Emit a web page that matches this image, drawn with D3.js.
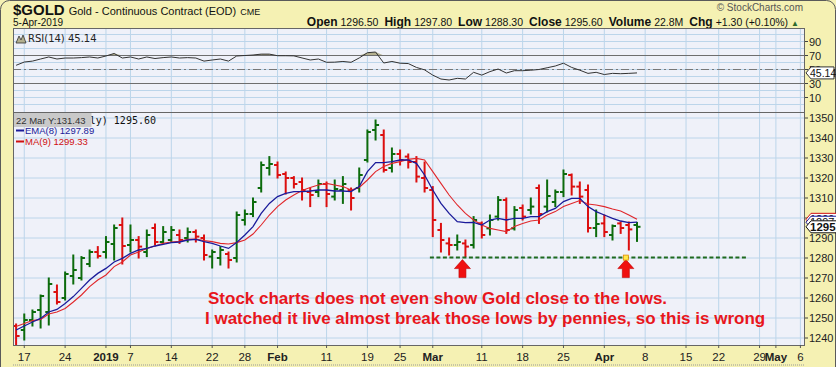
<!DOCTYPE html>
<html>
<head>
<meta charset="utf-8">
<script src="https://cdn.jsdelivr.net/npm/d3@7"></script>
<style>
  html, body { margin: 0; padding: 0; background: #f5f1b3; }
  svg { display: block; }
</style>
</head>
<body>
<div id="chart"></div>
<script>
// Daily bars, 14 Dec 2018 .. 5 Apr 2019 (index = trading day)
const opens = [
  1246, 1244, 1249, 1254, 1253, 1263, 1260, 1271, 1270, 1277,
  1283, 1283, 1287, 1296.5, 1286.5, 1289, 1283, 1295, 1288, 1289,
  1291.5, 1290, 1293, 1290, 1280.7, 1280, 1282, 1280, 1299, 1302,
  1315, 1325, 1326.5, 1322, 1320, 1318, 1313, 1313, 1317, 1310.7,
  1314, 1314, 1315, 1329, 1344, 1341.5, 1325, 1332, 1330.7, 1328,
  1320, 1314, 1294, 1287.3, 1286.5, 1287.3, 1286.5, 1297.3, 1294.8, 1300.7,
  1309, 1294.8, 1305, 1304, 1315, 1305.7, 1308, 1313, 1321.5, 1315.7,
  1314, 1295, 1297.3, 1291.5, 1297.3, 1296.5, 1296.5
];
const highs = [
  1247, 1252, 1254, 1261.5, 1270, 1266.5, 1273, 1281.5, 1280.7, 1284,
  1285.7, 1290.7, 1296.5, 1300, 1296.5, 1290.7, 1294, 1297, 1295.7, 1295.7,
  1294, 1295, 1294, 1291.5, 1284, 1285.7, 1283, 1303, 1304, 1310,
  1328, 1330.7, 1328, 1323, 1320.7, 1320, 1315, 1319, 1318, 1319,
  1320.7, 1315, 1325, 1344, 1349, 1344, 1335, 1334, 1332, 1330.7,
  1328, 1315.7, 1297.3, 1290, 1291.5, 1289, 1300.7, 1298, 1301.5, 1310.7,
  1310, 1305.7, 1306.5, 1310, 1316.5, 1319, 1314, 1324, 1322, 1318,
  1316.5, 1304, 1301.5, 1296.5, 1298, 1298, 1297.8
];
const lows = [
  1236, 1239, 1246, 1245, 1246.5, 1257, 1259, 1267, 1269, 1275.7,
  1280, 1280, 1279, 1277, 1283, 1280, 1280.7, 1286.5, 1287.3, 1288,
  1287.3, 1288, 1288, 1279, 1275, 1276.5, 1275, 1278, 1296.5, 1300.7,
  1313, 1321.5, 1320, 1312, 1315, 1309, 1305.7, 1310.7, 1305.7, 1309,
  1307.3, 1304, 1313, 1328, 1339, 1323, 1323, 1326.5, 1325, 1318,
  1313, 1290.7, 1283, 1281.5, 1284, 1280.7, 1285, 1290, 1291.5, 1299,
  1292.3, 1294, 1299, 1302, 1297.3, 1303, 1305.7, 1310.7, 1311.5, 1307.3,
  1293, 1290.7, 1290.7, 1289, 1292.3, 1284, 1288.3
];
const closes = [
  1241, 1249, 1253, 1261, 1267, 1258, 1272, 1274, 1280, 1283,
  1281, 1288, 1295, 1286, 1289, 1285.7, 1291.5, 1288, 1293, 1294,
  1289, 1293, 1290.7, 1281.5, 1283, 1284, 1279, 1301.5, 1302, 1308,
  1326.5, 1327, 1321.5, 1320, 1317, 1314, 1311.5, 1317, 1312, 1314.5,
  1317, 1310, 1321.5, 1343, 1346.5, 1324, 1332, 1329, 1328, 1320.7,
  1315, 1299, 1289, 1286.5, 1288, 1285.7, 1299, 1291.5, 1299, 1309,
  1294, 1304, 1300.7, 1305.7, 1302, 1311, 1313, 1322, 1315.7, 1310.7,
  1295, 1297, 1293, 1296, 1295, 1294.3, 1295.6
];
const ema8 = [
  1244, 1246, 1248, 1249.8, 1253, 1254.3, 1257.3, 1260.7, 1264.8, 1269,
  1272.3, 1274.8, 1278, 1279.8, 1282.3, 1284, 1284.8, 1286, 1286.8, 1287.7,
  1288, 1289, 1289.3, 1288.2, 1287.3, 1286, 1284.8, 1287.8, 1291.5, 1295.7,
  1302.3, 1307.3, 1310.7, 1312.3, 1313.2, 1313.2, 1313.5, 1314, 1314, 1313.5,
  1313.5, 1313.2, 1315.7, 1323.2, 1327.7, 1327.7, 1328.2, 1329, 1329, 1327.3,
  1321.5, 1314, 1307.3, 1302.3, 1298.2, 1297.7, 1297.8, 1296.5, 1299, 1299.8,
  1299, 1299.8, 1299.8, 1300.7, 1300.7, 1303.2, 1304.8, 1308.2, 1309.8, 1309.8,
  1305.7, 1303.2, 1301.5, 1299.8, 1298.5, 1297.7, 1297.89
];
const ma9 = [
  1245.7, 1247.3, 1248.7, 1249.3, 1252, 1253, 1254.8, 1258, 1261.5, 1265.7,
  1269, 1271.5, 1275.7, 1278, 1281.5, 1283, 1284.8, 1286, 1287.3, 1288,
  1288.3, 1289.3, 1289.5, 1288.7, 1288.2, 1287.3, 1287, 1287.7, 1289, 1292,
  1296.5, 1301.5, 1305.7, 1309, 1311.5, 1313.7, 1315.3, 1316.5, 1317.3, 1316.5,
  1315.7, 1314, 1315.3, 1319, 1323.2, 1325.7, 1327.3, 1328.2, 1329.3, 1329.8,
  1329, 1323.2, 1317.3, 1311.5, 1306.5, 1302.3, 1299, 1296.5, 1294.8, 1294,
  1293.2, 1295.7, 1297.3, 1298.5, 1299, 1301.5, 1303.2, 1305.7, 1307.3, 1308.7,
  1307, 1306.5, 1305.7, 1304.5, 1303.5, 1301.5, 1299.33
];
const rsi14 = [
  56, 60.7, 62, 65, 67.9, 65, 66.4, 66.4, 67, 67.9,
  66.4, 69.3, 72.9, 66.4, 67.9, 65, 67.9, 65.7, 67, 67.9,
  66.4, 67, 66.4, 62, 63.6, 65, 62, 69.3, 70, 70.7,
  72, 72, 69.7, 69.7, 69.5, 66.5, 63.6, 65, 60.3, 60.5,
  61.5, 60.3, 66.5, 74, 75, 59.3, 61.5, 59, 58.5, 53,
  49.5, 42, 36.4, 35, 37.4, 36.4, 46, 42, 47, 50.7,
  45, 48.3, 48.3, 49, 50, 52.5, 55, 59, 53, 49,
  44.5, 46, 42.8, 44.5, 44, 44.5, 45.14
];

// x axis: trading-day index of each weekly label
const tickIdx = [1, 6, 11, 14, 19, 24, 28, 32, 38, 43, 47, 51, 57, 62, 67, 72, 77, 82, 86, 91, 93, 96];
const tickLabels = ["17", "24", "2019", "7", "14", "22", "28", "Feb", "11", "19", "25", "Mar",
  "11", "18", "25", "Apr", "8", "15", "22", "29", "May", "6"];
const priceTicks = [1240, 1250, 1260, 1270, 1280, 1290, 1300, 1310, 1320, 1330, 1340, 1350];
const rsiTicks = [10, 30, 50, 70, 90];
const rsiGrid = [0, 10, 20, 30, 40, 50, 60, 70, 80, 90, 100];

// annotation
const supportLevel = 1280.2;
const supportFrom = 50.65, supportTo = 89.6;
const arrowIdx = [55, 75];
const noteLines = [
  "Stock charts does not even show Gold close to the lows.",
  "I watched it live almost break those lows by pennies, so this is wrong"
];

const W = 836, H = 367;
const left = 13, right = 805;
const rsiTop = 28, rsiBot = 112, mainTop = 112, mainBot = 345;
const green = "#0c6b0c", red = "#dc0f0f", grid = "#bcd5ea";

const x = d3.scaleLinear().domain([0, 96]).range([16.1, 800.4]);
const yP = d3.scaleLinear().domain([1236.5, 1353]).range([mainBot, mainTop]);
const yR = d3.scaleLinear().domain([-10.7, 109.3]).range([rsiBot, rsiTop]);

const svg = d3
  .select("#chart")
  .append("svg")
  .attr("width", W)
  .attr("height", H)
  .style("font-family", "'Liberation Sans', Arial, sans-serif");

svg.append("rect").attr("width", W).attr("height", H).attr("fill", "#f5f1b3");
svg
  .append("rect")
  .attr("x", 0.5)
  .attr("y", 0.5)
  .attr("width", W - 1)
  .attr("height", H + 20)
  .attr("rx", 9)
  .attr("fill", "none")
  .attr("stroke", "#5a5a5a");

// header
const head = svg.append("text").attr("x", 13).attr("y", 15).attr("fill", "#111");
head.append("tspan").attr("font-size", 15).attr("font-weight", "bold").text("$GOLD");
head.append("tspan").attr("font-size", 11).attr("dx", 4).text("Gold - Continuous Contract (EOD)");
head.append("tspan").attr("font-size", 9).attr("dx", 4).text("CME");

svg.append("text").attr("x", 13).attr("y", 26).attr("font-size", 10).attr("fill", "#111").text("5-Apr-2019");

svg
  .append("text")
  .attr("x", 803)
  .attr("y", 11)
  .attr("text-anchor", "end")
  .attr("font-size", 10)
  .attr("fill", "#555")
  .text("\u00a9 StockCharts.com");

const quote = [
  ["Open", "1296.50"], ["High", "1297.80"], ["Low", "1288.30"], ["Close", "1295.60"],
  ["Volume", "22.8M"], ["Chg", "+1.30 (+0.10%)"]
];
const qt = svg.append("text").attr("x", 799).attr("y", 26).attr("text-anchor", "end").attr("fill", "#111");
quote.forEach(([k, v], i) => {
  qt.append("tspan").attr("font-size", 12).attr("font-weight", "bold").attr("dx", i ? 6 : 0).text(k);
  qt.append("tspan").attr("font-size", 10.5).attr("dx", 3).text(v);
});
qt.append("tspan").attr("font-size", 8).attr("dx", 3).attr("fill", "#2d6b2d").text("\u25b2");

// panel backgrounds + grids
[[rsiTop, rsiBot], [mainTop, mainBot]].forEach(([t, b]) => {
  svg.append("rect").attr("x", left).attr("y", t).attr("width", right - left).attr("height", b - t).attr("fill", "#eff1f9");
  svg
    .append("g")
    .selectAll("line")
    .data(tickIdx)
    .enter()
    .append("line")
    .attr("x1", (d) => x(d))
    .attr("x2", (d) => x(d))
    .attr("y1", t)
    .attr("y2", b)
    .attr("stroke", grid);
});

svg
  .append("g")
  .selectAll("line")
  .data(rsiGrid)
  .enter()
  .append("line")
  .attr("x1", left)
  .attr("x2", right)
  .attr("y1", (d) => yR(d))
  .attr("y2", (d) => yR(d))
  .attr("stroke", grid);

svg
  .append("g")
  .selectAll("line")
  .data(priceTicks)
  .enter()
  .append("line")
  .attr("x1", left)
  .attr("x2", right)
  .attr("y1", (d) => yP(d))
  .attr("y2", (d) => yP(d))
  .attr("stroke", grid);

// RSI panel
const rsiG = svg.append("g");
rsiG
  .append("path")
  .attr("fill", "#b4b08f")
  .attr(
    "d",
    d3
      .area()
      .x((d, i) => x(i))
      .y0(yR(70))
      .y1((d) => yR(Math.max(d, 70)))(rsi14)
  );
[70, 30].forEach((v) => {
  rsiG.append("line").attr("x1", left).attr("x2", right).attr("y1", yR(v)).attr("y2", yR(v)).attr("stroke", "#6e6e6e");
});
rsiG
  .append("line")
  .attr("x1", left)
  .attr("x2", right)
  .attr("y1", yR(50))
  .attr("y2", yR(50))
  .attr("stroke", "#777")
  .attr("stroke-dasharray", "8,3,2,3");
rsiG
  .append("path")
  .attr("fill", "none")
  .attr("stroke", "#333")
  .attr("stroke-width", 1)
  .attr(
    "d",
    d3
      .line()
      .x((d, i) => x(i))
      .y((d) => yR(d))(rsi14)
  );

rsiG
  .append("path")
  .attr("d", "M16,43 L19,36 L21,40 L23,35 L26,43 Z")
  .attr("fill", "#b4b08f")
  .attr("stroke", "#333")
  .attr("stroke-width", 0.8);
rsiG
  .append("text")
  .attr("x", 28)
  .attr("y", 42)
  .attr("font-family", "'DejaVu Sans'")
  .attr("font-size", 10)
  .attr("fill", "#222")
  .text("RSI(14) 45.14");

// main panel: bars and averages
svg
  .append("clipPath")
  .attr("id", "clipMain")
  .append("rect")
  .attr("x", left)
  .attr("y", mainTop)
  .attr("width", right - left)
  .attr("height", mainBot - mainTop);

const mainG = svg.append("g").attr("clip-path", "url(#clipMain)");

const bars = mainG
  .selectAll(".bar")
  .data(closes)
  .enter()
  .append("g")
  .attr("class", "bar")
  .attr("stroke", (c, i) => ((i === 0 ? c >= opens[i] : c >= closes[i - 1]) ? green : red))
  .attr("stroke-width", 2);

bars
  .append("line")
  .attr("x1", (d, i) => x(i))
  .attr("x2", (d, i) => x(i))
  .attr("y1", (d, i) => yP(highs[i]) - 0.5)
  .attr("y2", (d, i) => yP(lows[i]) + 0.5);
bars
  .append("line")
  .attr("x1", (d, i) => x(i) - 3.5)
  .attr("x2", (d, i) => x(i))
  .attr("y1", (d, i) => yP(opens[i]))
  .attr("y2", (d, i) => yP(opens[i]));
bars
  .append("line")
  .attr("x1", (d, i) => x(i))
  .attr("x2", (d, i) => x(i) + 3.5)
  .attr("y1", (d) => yP(d))
  .attr("y2", (d) => yP(d));

const avgLine = d3
  .line()
  .x((d, i) => x(i))
  .y((d) => yP(d));
mainG.append("path").attr("d", avgLine(ma9)).attr("fill", "none").attr("stroke", "#e0262a").attr("stroke-width", 1.1);
mainG.append("path").attr("d", avgLine(ema8)).attr("fill", "none").attr("stroke", "#1b1b9a").attr("stroke-width", 1.3);

// support line, arrows, note
mainG
  .append("line")
  .attr("x1", x(supportFrom))
  .attr("x2", x(supportTo))
  .attr("y1", yP(supportLevel))
  .attr("y2", yP(supportLevel))
  .attr("stroke", "#1f6a1f")
  .attr("stroke-width", 2)
  .attr("stroke-dasharray", "4,2.5");

const ay = yP(supportLevel) + 2;
mainG
  .selectAll(".arrow")
  .data(arrowIdx)
  .enter()
  .append("path")
  .attr("class", "arrow")
  .attr("fill", "#f01010")
  .attr("stroke", "#c00000")
  .attr("stroke-width", 0.6)
  .attr("d", (d) => {
    const cx = x(d) - 3;
    return `M${cx},${ay} L${cx + 8},${ay + 9} L${cx + 3.5},${ay + 9} L${cx + 3.5},${ay + 18}
            L${cx - 3.5},${ay + 18} L${cx - 3.5},${ay + 9} L${cx - 8},${ay + 9} Z`;
  });
mainG
  .append("rect")
  .attr("x", x(arrowIdx[1]) - 5.5)
  .attr("y", yP(supportLevel) - 2.5)
  .attr("width", 5)
  .attr("height", 5)
  .attr("fill", "#ffe94a")
  .attr("stroke", "#e08a00")
  .attr("stroke-width", 0.8);

mainG
  .selectAll(".note")
  .data(noteLines)
  .enter()
  .append("text")
  .attr("class", "note")
  .attr("x", (d, i) => (i ? 205 : 208))
  .attr("y", (d, i) => 304 + i * 20)
  .attr("font-size", 17)
  .attr("font-weight", "bold")
  .attr("fill", "#e8161c")
  .text((d) => d);

// main legend
const leg = svg.append("g").attr("font-size", 9.5);
leg
  .append("text")
  .attr("x", 156)
  .attr("y", 124)
  .attr("text-anchor", "end")
  .attr("font-family", "'DejaVu Sans Mono'")
  .attr("font-size", 10)
  .attr("fill", "#111")
  .text("$GOLD (Daily) 1295.60");
[["EMA(8) 1297.89", "#1b1b9a", 134], ["MA(9) 1299.33", "#d01010", 145]].forEach(([t, c, yy]) => {
  leg.append("line").attr("x1", 16).attr("x2", 24).attr("y1", yy - 3.5).attr("y2", yy - 3.5).attr("stroke", c).attr("stroke-width", 2);
  leg.append("text").attr("x", 25).attr("y", yy).attr("fill", c).text(t);
});
leg.append("rect").attr("x", 13).attr("y", 112.5).attr("width", 78.5).attr("height", 14.5).attr("fill", "#c9c9c9");
leg.append("text").attr("x", 16).attr("y", 123.5).attr("font-size", 9.5).attr("fill", "#333").text("22 Mar Y:131.43");

// panel borders
[[rsiTop, rsiBot], [mainTop, mainBot]].forEach(([t, b]) => {
  svg
    .append("rect")
    .attr("x", left + 0.5)
    .attr("y", t + 0.5)
    .attr("width", right - left - 1)
    .attr("height", b - t)
    .attr("fill", "none")
    .attr("stroke", "#666");
});

// right axes
const axisText = (g, v, yy) => {
  g.append("line").attr("x1", right).attr("x2", right + 3).attr("y1", yy).attr("y2", yy).attr("stroke", "#444");
  g.append("text").attr("x", right + 4).attr("y", yy + 4).attr("font-size", 11).attr("fill", "#222").text(v);
};
const axG = svg.append("g");
rsiTicks.forEach((v) => axisText(axG, v, yR(v)));
priceTicks.forEach((v) => axisText(axG, v, yP(v)));

const tag = (yy, txt, stroke, bold, xEnd, fs) => {
  const h = 12;
  axG
    .append("path")
    .attr("d", `M${right + 1},${yy} L${right + 6},${yy - h / 2} L${xEnd},${yy - h / 2} L${xEnd},${yy + h / 2} L${right + 6},${yy + h / 2} Z`)
    .attr("fill", "#fff")
    .attr("stroke", stroke)
    .attr("stroke-width", 1);
  axG
    .append("text")
    .attr("x", right + 5)
    .attr("y", yy + 4)
    .attr("font-size", fs)
    .attr("font-weight", bold ? "bold" : "normal")
    .attr("fill", "#111")
    .text(txt);
};
tag(yR(rsi14[rsi14.length - 1]), "45.14", "#333", false, 834, 10.5);
tag(yP(ma9[ma9.length - 1]), "1299.33", "#d01010", false, W + 5, 11);
tag(yP(ema8[ema8.length - 1]), "1297.89", "#1b1b9a", false, W + 5, 11);
tag(yP(closes[closes.length - 1]), "1295.60", "#111", true, W + 5, 11.5);

// bottom axis
const xg = svg.append("g");
xg
  .selectAll("line")
  .data(tickIdx)
  .enter()
  .append("line")
  .attr("x1", (d) => x(d))
  .attr("x2", (d) => x(d))
  .attr("y1", mainBot)
  .attr("y2", mainBot + 3)
  .attr("stroke", "#555");
xg
  .selectAll("text")
  .data(tickLabels)
  .enter()
  .append("text")
  .attr("x", (d, i) => x(tickIdx[i]))
  .attr("y", 361)
  .attr("text-anchor", "middle")
  .attr("font-family", "'Liberation Sans Narrow', 'Liberation Sans', Arial, sans-serif")
  .attr("font-size", 11.5)
  .attr("font-weight", (d) => (/^\d{1,2}$/.test(d) ? "normal" : "bold"))
  .attr("fill", "#222")
  .text((d) => d);
svg
  .append("line")
  .attr("x1", 13)
  .attr("x2", 805)
  .attr("y1", 365)
  .attr("y2", 365)
  .attr("stroke", "#999")
  .attr("stroke-dasharray", "1,1");
</script>
</body>
</html>
